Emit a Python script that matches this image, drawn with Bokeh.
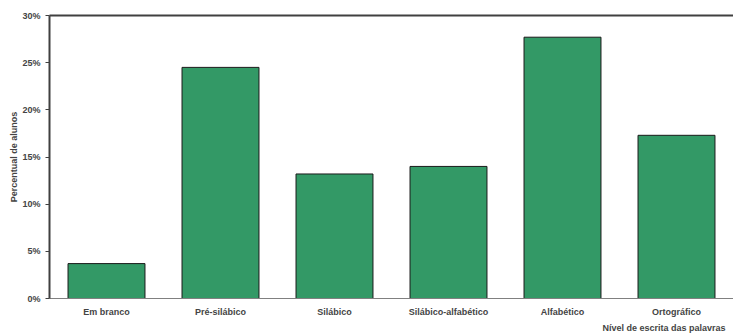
from bokeh.plotting import figure
from bokeh.models import FixedTicker, NumeralTickFormatter, LinearAxis, Title, Range1d
from bokeh.embed import file_html
from bokeh.resources import INLINE

categories = ["Em branco", "Pré-silábico", "Silábico", "Silábico-alfabético", "Alfabético", "Ortográfico"]
values = [0.037, 0.245, 0.132, 0.140, 0.277, 0.173]
y_ticks = [0, 0.05, 0.10, 0.15, 0.20, 0.25, 0.30]

FONT = "Liberation Sans"

p = figure(x_range=categories, y_range=Range1d(0, 0.30), width=733, height=333,
           output_backend="svg", toolbar_location=None,
           min_border_left=49, min_border_right=0, min_border_top=15, min_border_bottom=20)

p.vbar(x=categories, top=values, width=0.675, fill_color="#339966",
       line_color="#1a1a1a", line_width=1)

p.xgrid.visible = False
p.ygrid.visible = False
p.outline_line_color = None

ya = p.yaxis[0]
ya.ticker = FixedTicker(ticks=y_ticks)
ya.formatter = NumeralTickFormatter(format="0%")
ya.minor_tick_line_color = None
ya.major_tick_in = 0
ya.major_tick_out = 4
ya.major_tick_line_color = "#404040"
ya.axis_line_color = "#404040"
ya.axis_line_width = 2
ya.major_label_text_font = FONT
ya.major_label_text_font_style = "bold"
ya.major_label_text_font_size = "9px"
ya.major_label_standoff = 5
ya.axis_label = "Percentual de alunos"
ya.axis_label_text_font = FONT
ya.axis_label_text_font_style = "bold"
ya.axis_label_text_font_size = "9px"
ya.axis_label_standoff = 0

xa = p.xaxis[0]
xa.major_tick_line_color = None
xa.minor_tick_line_color = None
xa.axis_line_color = "#808080"
xa.axis_line_width = 1
xa.major_label_text_font = FONT
xa.major_label_text_font_style = "bold"
xa.major_label_text_font_size = "9px"
xa.major_label_standoff = 2

top_axis = LinearAxis(major_tick_line_color=None, minor_tick_line_color=None,
                      major_label_text_font_size="0px", axis_line_color="#404040",
                      axis_line_width=2)
top_axis.ticker = FixedTicker(ticks=[])
p.add_layout(top_axis, "above")

t = Title(text="Nível de escrita das palavras", align="right", text_font=FONT,
          text_font_style="bold", text_font_size="9px", offset=8, standoff=2)
p.add_layout(t, "below")

open("out.html", "w").write(file_html(p, INLINE))
